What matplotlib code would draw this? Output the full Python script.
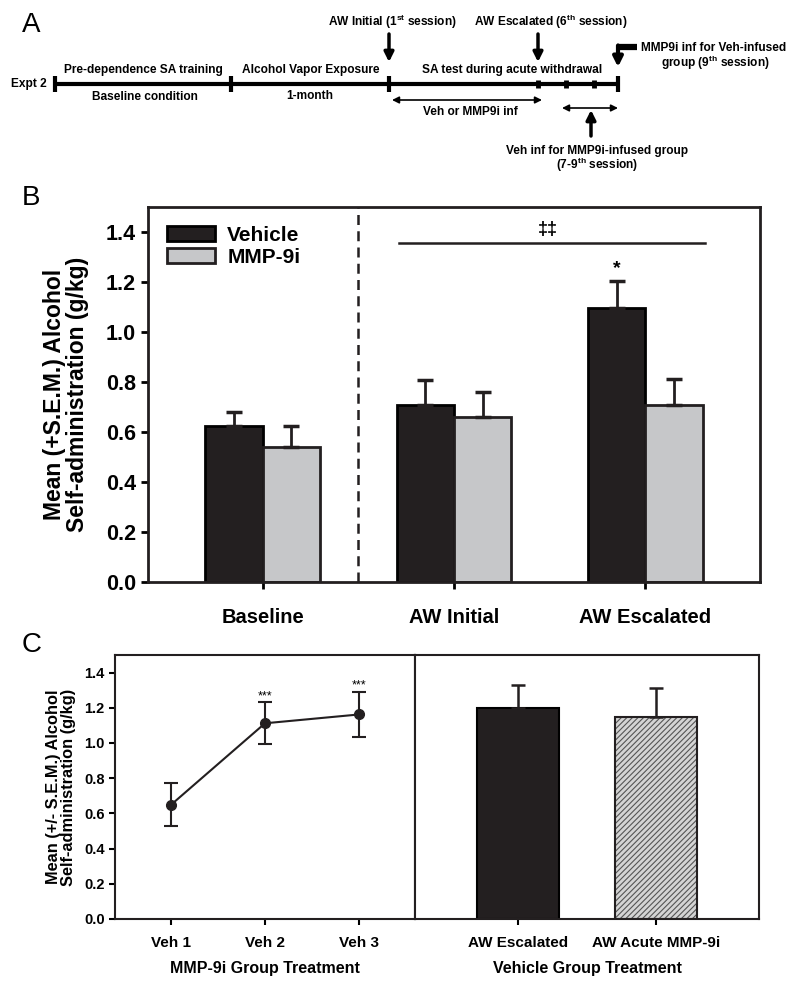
import numpy as np
import matplotlib.pyplot as plt
from matplotlib.patches import Rectangle

plt.rcParams['font.family'] = ['Liberation Sans', 'DejaVu Sans']
plt.rcParams['font.weight'] = 'bold'
plt.rcParams['axes.labelweight'] = 'bold'
plt.rcParams['mathtext.fontset'] = 'custom'
plt.rcParams['mathtext.bf'] = 'Liberation Sans:bold'
plt.rcParams['mathtext.rm'] = 'Liberation Sans:bold'
plt.rcParams['hatch.linewidth'] = 0.8

# Panel B data
groups = ['Baseline', 'AW Initial', 'AW Escalated']
veh_mean = [0.625, 0.71, 1.095]
veh_sem = [0.055, 0.10, 0.11]
mmp_mean = [0.54, 0.662, 0.709]
mmp_sem = [0.086, 0.10, 0.105]

# Panel C (left) data
veh_sessions = ['Veh 1', 'Veh 2', 'Veh 3']
sess_mean = [0.65, 1.112, 1.162]
sess_sem = [0.122, 0.12, 0.13]

# Panel C (right) data
vg_labels = ['AW Escalated', 'AW Acute MMP-9i']
vg_mean = [1.20, 1.15]
vg_sem = [0.13, 0.165]

# Panel A timeline (pixel layout)
timeline_ticks = [55, 231, 389, 538, 566, 594, 618]

BLACK = '#231f20'
GREY = '#c6c7c9'

fig = plt.figure(figsize=(8, 9.9), dpi=100)

# ---------------- Panel A ----------------
axa = fig.add_axes([0, 1 - 180 / 990, 1, 180 / 990])
axa.set_xlim(0, 800)
axa.set_ylim(180, 0)
axa.axis('off')

fs_a = 8.6
axa.plot([timeline_ticks[0], timeline_ticks[-1]], [84, 84], color='k', lw=3, solid_capstyle='butt')
for i, t in enumerate(timeline_ticks):
    h = 8 if i in (0, 1, 2, 6) else 4
    axa.plot([t, t], [84 - h, 84 + h], color='k', lw=3 if h == 8 else 3.5, solid_capstyle='butt')

axa.text(29, 84, 'Expt 2', ha='center', va='center', fontsize=fs_a)
axa.text(143, 70, 'Pre-dependence SA training', ha='center', va='center', fontsize=fs_a)
axa.text(145, 97, 'Baseline condition', ha='center', va='center', fontsize=fs_a)
axa.text(311, 70, 'Alcohol Vapor Exposure', ha='center', va='center', fontsize=fs_a)
axa.text(310, 96, '1-month', ha='center', va='center', fontsize=fs_a)
axa.text(512, 70, 'SA test during acute withdrawal', ha='center', va='center', fontsize=fs_a)
axa.text(392, 22, r'AW Initial (1$^{\mathbf{st}}$ session)', ha='center', va='center', fontsize=fs_a)
axa.text(551, 22, r'AW Escalated (6$^{\mathbf{th}}$ session)', ha='center', va='center', fontsize=fs_a)
axa.text(470, 112, 'Veh or MMP9i inf', ha='center', va='center', fontsize=fs_a)
axa.text(597, 151, 'Veh inf for MMP9i-infused group', ha='center', va='center', fontsize=fs_a)
axa.text(597, 165, r'(7-9$^{\mathbf{th}}$ session)', ha='center', va='center', fontsize=fs_a)
axa.text(714, 48, 'MMP9i inf for Veh-infused', ha='center', va='center', fontsize=fs_a)
axa.text(715, 63, r'group (9$^{\mathbf{th}}$ session)', ha='center', va='center', fontsize=fs_a)

down = dict(arrowstyle='-|>', lw=2.5, color='k', mutation_scale=14, shrinkA=0, shrinkB=0)
axa.annotate('', xy=(389, 62), xytext=(389, 34), arrowprops=down)
axa.annotate('', xy=(538, 62), xytext=(538, 34), arrowprops=down)
axa.annotate('', xy=(591, 110), xytext=(591, 136), arrowprops=down)
axa.plot([637, 616.5], [47, 47], color='k', lw=4.5, solid_capstyle='butt')
axa.annotate('', xy=(618, 67), xytext=(618, 45.5), arrowprops=dict(down, lw=3))

dbl = dict(arrowstyle='<|-|>', lw=1.2, color='k', mutation_scale=10, shrinkA=0, shrinkB=0)
axa.annotate('', xy=(392, 100), xytext=(542, 100), arrowprops=dbl)
axa.annotate('', xy=(562, 108), xytext=(618, 108), arrowprops=dbl)

# ---------------- Panel B ----------------
axb = fig.add_axes([148 / 800, 1 - 582 / 990, (760 - 148) / 800, (582 - 207) / 990])
x = np.arange(len(groups))
w = 0.3
axb.bar(x - w / 2, veh_mean, w, color=BLACK, edgecolor='k', lw=2, zorder=2)
axb.bar(x + w / 2, mmp_mean, w, color=GREY, edgecolor=BLACK, lw=2, zorder=2)
axb.errorbar(x - w / 2, veh_mean, yerr=[np.zeros(3), veh_sem], fmt='none', ecolor=BLACK,
             elinewidth=2, capsize=6, capthick=2.5, zorder=3)
axb.errorbar(x + w / 2, mmp_mean, yerr=[np.zeros(3), mmp_sem], fmt='none', ecolor=BLACK,
             elinewidth=2, capsize=6, capthick=2.5, zorder=3)
axb.axvline(0.5, color=BLACK, lw=1.8, ls=(0, (4, 2.5)))
axb.plot([0.71, 2.31], [1.357, 1.357], color=BLACK, lw=1.8)
axb.text(1.49, 1.41, '‡‡', ha='center', va='center', fontsize=13, fontweight='bold',
         family=['Liberation Sans', 'DejaVu Sans'])
axb.text(1.85, 1.255, '*', ha='center', va='center', fontsize=14)

axb.set_xlim(-0.6, 2.6)
axb.set_ylim(0, 1.5)
axb.set_yticks(np.arange(0, 1.41, 0.2))
axb.set_yticklabels([f'{v:.1f}' for v in np.arange(0, 1.41, 0.2)])
axb.set_xticks(x)
axb.set_xticklabels(groups)
axb.tick_params(axis='y', labelsize=15.5, width=2, length=5, direction='out')
axb.tick_params(axis='x', labelsize=14.5, width=2, length=5, direction='out', pad=14)
for s in axb.spines.values():
    s.set_linewidth(2)
    s.set_color(BLACK)
axb.set_ylabel('Mean (+S.E.M.) Alcohol\nSelf-administration (g/kg)', fontsize=16.5, labelpad=12,
               linespacing=1.0)
h1 = Rectangle((0, 0), 1, 1, facecolor=BLACK, edgecolor='k', lw=2)
h2 = Rectangle((0, 0), 1, 1, facecolor=GREY, edgecolor=BLACK, lw=2)
axb.legend([h1, h2], ['Vehicle', 'MMP-9i'], loc='upper left', frameon=False, fontsize=15,
           handlelength=2.3, handleheight=0.7, handletextpad=0.6, labelspacing=0.15,
           bbox_to_anchor=(0.0, 1.0), borderaxespad=0.5)

# ---------------- Panel C left ----------------
axc1 = fig.add_axes([115 / 800, 1 - 919 / 990, (415 - 115) / 800, (919 - 655) / 990])
xs = np.arange(len(veh_sessions))
axc1.errorbar(xs, sess_mean, yerr=sess_sem, fmt='-o', color=BLACK, ms=7, lw=1.5,
              elinewidth=1.5, capsize=5, capthick=1.5)
for xi, m, s in zip(xs[1:], sess_mean[1:], sess_sem[1:]):
    axc1.text(xi, m + s + 0.035, '***', ha='center', va='center', fontsize=9, fontweight='normal')
axc1.set_xlim(-0.6, 2.6)
axc1.set_ylim(0, 1.5)
axc1.set_yticks(np.arange(0, 1.41, 0.2))
axc1.set_yticklabels([f'{v:.1f}' for v in np.arange(0, 1.41, 0.2)])
axc1.set_xticks(xs)
axc1.set_xticklabels(veh_sessions)
axc1.tick_params(axis='y', labelsize=10.5, width=1.5, length=4)
axc1.tick_params(axis='x', labelsize=11, width=1.5, length=4, pad=8)
for s in axc1.spines.values():
    s.set_linewidth(1.5)
    s.set_color(BLACK)
axc1.set_ylabel('Mean (+/- S.E.M.) Alcohol\nSelf-administration (g/kg)', fontsize=11.8,
                labelpad=6, linespacing=1.0)
axc1.set_xlabel('MMP-9i Group Treatment', fontsize=11.5, labelpad=8)

# ---------------- Panel C right ----------------
axc2 = fig.add_axes([415 / 800, 1 - 919 / 990, (759 - 415) / 800, (919 - 655) / 990])
xv = np.arange(len(vg_labels))
axc2.bar(xv[0], vg_mean[0], 0.6, color=BLACK, edgecolor='k', lw=1.5, zorder=2)
axc2.bar(xv[1], vg_mean[1], 0.6, color='#d4d4d4', edgecolor='#555555', lw=0, hatch='//////', zorder=2)
axc2.bar(xv[1], vg_mean[1], 0.6, color='none', edgecolor=BLACK, lw=1.5, zorder=2)
axc2.errorbar(xv, vg_mean, yerr=[np.zeros(2), vg_sem], fmt='none', ecolor=BLACK,
              elinewidth=1.8, capsize=5, capthick=1.8, zorder=3)
axc2.set_xlim(-0.75, 1.75)
axc2.set_ylim(0, 1.5)
axc2.set_yticks([])
axc2.set_xticks(xv)
axc2.set_xticklabels(vg_labels)
axc2.tick_params(axis='x', labelsize=11, width=1.5, length=4, pad=8)
for s in axc2.spines.values():
    s.set_linewidth(1.5)
    s.set_color(BLACK)
axc2.set_xlabel('Vehicle Group Treatment', fontsize=11.5, labelpad=8)

# panel letters
fig.text(22 / 800, 1 - 25 / 990, 'A', fontsize=20, fontweight='normal', va='center')
fig.text(22 / 800, 1 - 198 / 990, 'B', fontsize=20, fontweight='normal', va='center')
fig.text(22 / 800, 1 - 645 / 990, 'C', fontsize=20, fontweight='normal', va='center')

fig.savefig('out.png', dpi=100)
